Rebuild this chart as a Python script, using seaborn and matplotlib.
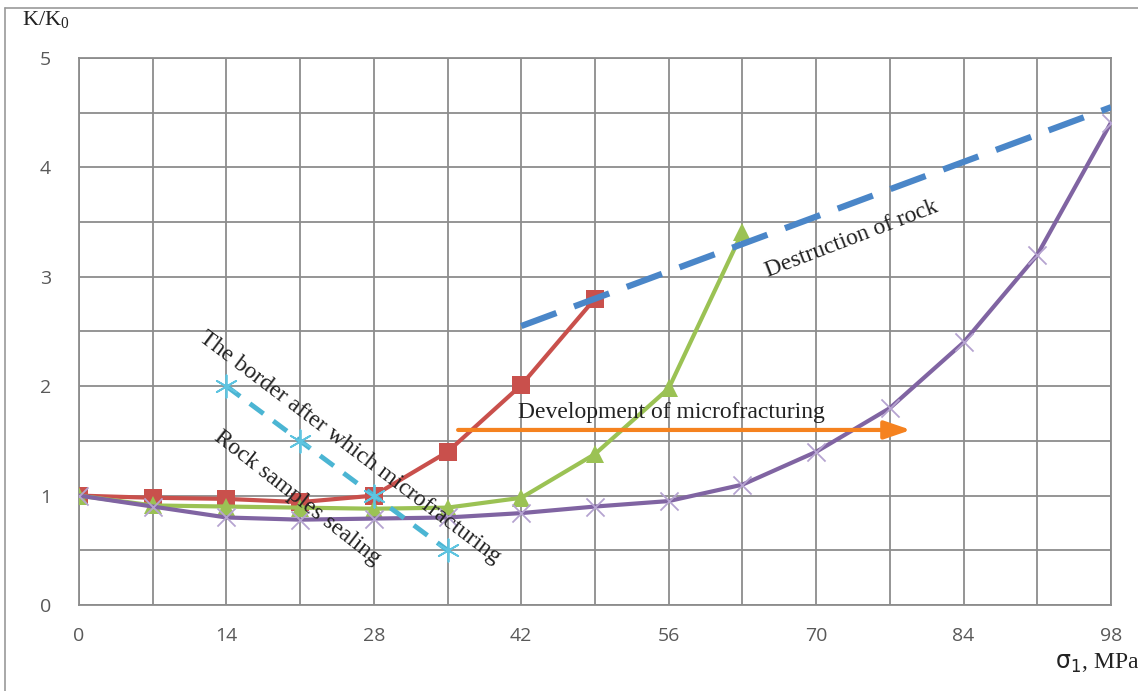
import numpy as np
import pandas as pd
import seaborn as sns
import matplotlib
matplotlib.use("Agg")
import matplotlib.pyplot as plt
from matplotlib.lines import Line2D

# ---------------- data ----------------
x_red = [0, 7, 14, 21, 28, 35, 42, 49]
y_red = [1.0, 0.98, 0.97, 0.94, 1.0, 1.4, 2.01, 2.8]

x_green = [0, 7, 14, 21, 28, 35, 42, 49, 56, 63]
y_green = [1.0, 0.91, 0.9, 0.89, 0.88, 0.89, 0.98, 1.38, 1.98, 3.41]

x_purple = [0, 7, 14, 21, 28, 35, 42, 49, 56, 63, 70, 77, 84, 91, 98]
y_purple = [1.0, 0.9, 0.8, 0.78, 0.79, 0.8, 0.84, 0.9, 0.95, 1.1, 1.4, 1.8, 2.4, 3.2, 4.41]

x_border = [14, 21, 28, 35]
y_border = [2.0, 1.5, 1.0, 0.5]

x_destruction = [42, 98]
y_destruction = [2.55, 4.55]

arrow_x = [36, 79]
arrow_y = 1.6

x_ticks = list(range(0, 99, 7))
x_ticklabels = [str(v) if v % 14 == 0 else "" for v in x_ticks]
y_ticks = [0, 0.5, 1, 1.5, 2, 2.5, 3, 3.5, 4, 4.5, 5]
y_ticklabels = [str(int(v)) if float(v).is_integer() else "" for v in y_ticks]

label_destruction = "Destruction of rock"
label_development = "Development of microfracturing"
label_border = "The border after which microfracturing"
label_sealing = "Rock samples sealing"

# ---------------- style ----------------
sns.set_style("white")
plt.rcParams["font.family"] = ["Liberation Serif", "DejaVu Serif"]
plt.rcParams["mathtext.fontset"] = "dejavusans"

W, H, DPI = 1138, 691, 100
fig = plt.figure(figsize=(W / DPI, H / DPI), dpi=DPI)
ax = fig.add_axes([79 / W, 1 - 605 / H, 1032 / W, 547 / H])

grid_c = "#8c8c8c"

# series
sns.lineplot(x=x_red, y=y_red, ax=ax, color="#C9504C", lw=3, marker="s",
             markersize=13, markeredgewidth=0, zorder=4)
sns.lineplot(x=x_green, y=y_green, ax=ax, color="#9BC254", lw=3, marker="^",
             markersize=13, markeredgewidth=0, zorder=4)
sns.lineplot(x=x_purple, y=y_purple, ax=ax, color="#8064A2", lw=3, zorder=4)
sns.scatterplot(x=x_purple, y=y_purple, ax=ax, marker="x", color="#B5A3D0",
                s=170, linewidth=1.3, zorder=5)
sns.lineplot(x=x_border, y=y_border, ax=ax, color="#4BB5D3", lw=3.5,
             linestyle=(0, (3.5, 2.5)), zorder=6)
sns.scatterplot(x=x_border, y=y_border, ax=ax, marker=(6, 2, 0), color="#5EC4E0",
                s=260, linewidth=1.3, zorder=6)
sns.lineplot(x=x_destruction, y=y_destruction, ax=ax, color="#4A86C8", lw=4.5,
             linestyle=(0, (6, 3)), zorder=6)

# orange arrow
ax.annotate("", xy=(arrow_x[1], arrow_y), xytext=(arrow_x[0], arrow_y),
            arrowprops=dict(arrowstyle="-|>,head_length=1.6,head_width=0.55",
                            color="#F5821F", lw=3, shrinkA=0, shrinkB=0),
            zorder=7)

# annotations
tkw = dict(fontsize=17, color="#222222", rotation_mode="anchor", zorder=8)
ax.text(73.4, 3.35, label_destruction, rotation=21, ha="center", va="center", **tkw)
ax.text(41.7, 1.71, label_development, rotation=0, ha="left", va="baseline", **tkw)
ax.text(25.7, 1.44, label_border, rotation=-37, ha="center", va="center", **tkw)
ax.text(20.7, 0.98, label_sealing, rotation=-38, ha="center", va="center", **tkw)

# axes
ax.set_xlim(0, 98)
ax.set_ylim(0, 5)
ax.set_xticks(x_ticks)
ax.set_xticklabels(x_ticklabels)
ax.set_yticks(y_ticks)
ax.set_yticklabels(y_ticklabels)
ax.grid(True, color=grid_c, lw=1.3, zorder=0)
ax.set_axisbelow(True)
for s in ax.spines.values():
    s.set_color(grid_c)
    s.set_linewidth(1.3)
ax.tick_params(axis="both", which="both", direction="out", length=8, width=1.3,
               color=grid_c, labelcolor="#595959", labelsize=14)
ax.tick_params(axis="x", pad=8)
ax.tick_params(axis="y", pad=12)
for lab in ax.get_xticklabels() + ax.get_yticklabels():
    lab.set_fontfamily(["Open Sans", "DejaVu Sans"])
ax.set_xlabel("")
ax.set_ylabel("")

# axis titles
fig.text(22 / W, 1 - 20 / H, r"K/K$_\mathregular{0}$", fontsize=16, ha="left", va="center",
         color="#222222")
fig.text(1140 / W, 1 - 663 / H, r"$\mathsf{\sigma}_{\mathsf{1}}$, MPa", fontsize=17,
         ha="right", va="center", color="#222222")

# figure frame (left and top)
fig.add_artist(Line2D([5 / W, 5 / W], [0, 1 - 8 / H], transform=fig.transFigure,
                      color="#9a9a9a", lw=1.2))
fig.add_artist(Line2D([5 / W, 1], [1 - 8 / H, 1 - 8 / H], transform=fig.transFigure,
                      color="#9a9a9a", lw=1.2))

fig.savefig("out.png", dpi=DPI, facecolor="white")
